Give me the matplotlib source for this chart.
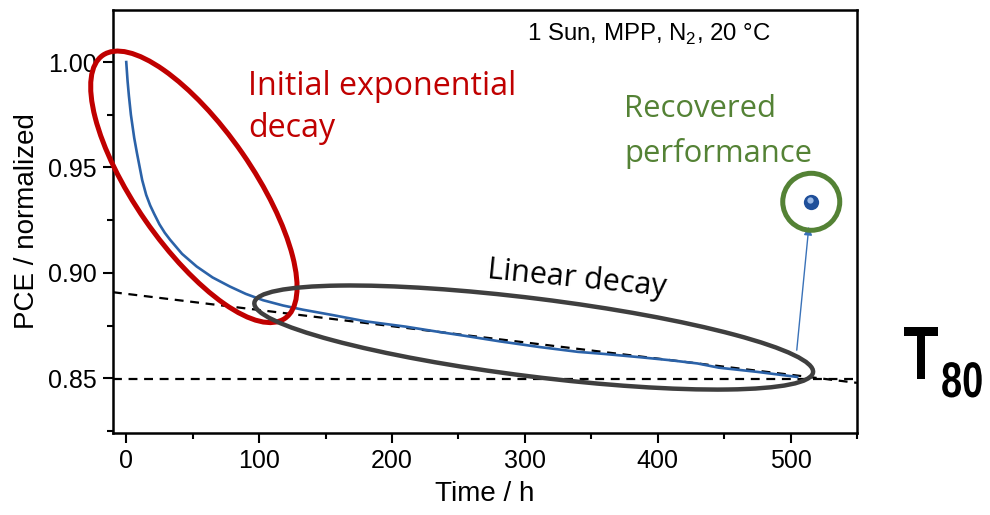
import matplotlib
matplotlib.use("Agg")
import matplotlib.pyplot as plt
from matplotlib.patches import Ellipse, PathPatch
from matplotlib.transforms import ScaledTranslation, Affine2D
from matplotlib.textpath import TextPath
from matplotlib.font_manager import FontProperties
from matplotlib.ticker import MultipleLocator, FormatStrFormatter

# MPP tracking, normalized PCE vs time
time_h = [0, 1, 2, 3.5, 6, 8, 10, 12, 15, 18, 21, 25, 29, 33, 42, 53, 65, 78, 90,
          103, 118, 133, 155, 180, 210, 235, 256, 281, 311, 340, 360, 386, 410,
          430, 446, 475, 490, 505]
pce_norm = [1.000, 0.991, 0.984, 0.975, 0.964, 0.957, 0.9505, 0.944, 0.937, 0.932,
            0.928, 0.923, 0.919, 0.9157, 0.909, 0.903, 0.8978, 0.8935, 0.890,
            0.887, 0.8845, 0.8825, 0.880, 0.877, 0.8745, 0.872, 0.870, 0.8675,
            0.8648, 0.8625, 0.8615, 0.8600, 0.8585, 0.857, 0.8550, 0.8530,
            0.8518, 0.8506]

# linear fit of the slow regime and the T80 level
fit_t = [-10, 550]
fit_pce = [0.8908, 0.8478]
t80_level = 0.8495

# point after recovery
rec_t = 515.6
rec_pce = 0.9337

plt.rcParams['font.family'] = ['Liberation Sans', 'DejaVu Sans']
plt.rcParams['mathtext.fontset'] = 'custom'
plt.rcParams['mathtext.rm'] = 'Liberation Sans'

W, H = 990, 515
fig = plt.figure(figsize=(W / 100, H / 100), dpi=100)
ax = fig.add_axes([0.1141, 0.1592, 0.7515, 0.8214])

ax.plot(fit_t, fit_pce, color='black', lw=1.6, dashes=(4, 3), zorder=2)
ax.plot(fit_t, [t80_level, t80_level], color='black', lw=1.6, dashes=(4, 3), zorder=2)
ax.plot(time_h, pce_norm, color='#2b62a8', lw=1.9, zorder=3)

ax.set_xlim(-10, 550)
ax.set_ylim(0.824, 1.0247)
ax.xaxis.set_major_locator(MultipleLocator(100))
ax.xaxis.set_minor_locator(MultipleLocator(50))
ax.yaxis.set_major_locator(MultipleLocator(0.05))
ax.yaxis.set_minor_locator(MultipleLocator(0.025))
ax.yaxis.set_major_formatter(FormatStrFormatter('%.2f'))
ax.tick_params(which='both', direction='out', width=1.5, labelsize=18, top=False, right=False)
ax.tick_params(which='major', length=7.5, pad=4)
ax.tick_params(which='minor', length=4.5)
for sp in ax.spines.values():
    sp.set_linewidth(1.8)

ax.set_xlabel('Time / h', fontsize=20)
ax.set_ylabel('PCE / normalized', fontsize=20)
ax.xaxis.set_label_coords(0.5, -0.113)
ax.yaxis.set_label_coords(-0.098, 0.5)


def ring(cx, cy, w_px, h_px, angle, color, lw):
    # ellipse sized in pixels, anchored at a data point
    tr = fig.dpi_scale_trans + ScaledTranslation(cx, cy, ax.transData)
    e = Ellipse((0, 0), w_px / 100, h_px / 100, angle=angle, transform=tr,
                fill=False, edgecolor=color, lw=lw, zorder=4, clip_on=False)
    ax.add_patch(e)


ring(50.9, 0.9408, 320, 118, -55.3, '#c00000', 3.6)
ring(306.7, 0.8693, 563, 78, -7.1, '#3f3f3f', 3.2)
ring(rec_t, rec_pce, 57, 57, 0, '#548235', 3.6)

# recovered point, shaded sphere look
ax.plot([rec_t], [rec_pce], 'o', ms=11, color='#1f4f9a', mec='none', zorder=5)
hl = ax.transData + ScaledTranslation(-1.5 / 100, 1.5 / 100, fig.dpi_scale_trans)
ax.plot([rec_t], [rec_pce], 'o', ms=4.5, color='#a9c6ee', mec='none', alpha=0.9,
        transform=hl, zorder=6)

ax.annotate('', xy=(rec_t, rec_pce), xytext=(504.7, 0.8633),
            arrowprops=dict(arrowstyle='-|>', color='#3a72b8', lw=1.0,
                            mutation_scale=12, shrinkA=0, shrinkB=18))

ann_font = ['Open Sans', 'DejaVu Sans']
ax.text(91.8, 0.9843, 'Initial exponential', color='#c00000', fontsize=23.2,
        family=ann_font, va='baseline')
ax.text(91.8, 0.9645, 'decay', color='#c00000', fontsize=23.2,
        family=ann_font, va='baseline')
ax.text(374.7, 0.974, 'Recovered', color='#548235', fontsize=22.3,
        family=ann_font, va='baseline')
ax.text(374.7, 0.9527, 'performance', color='#548235', fontsize=22.3,
        family=ann_font, va='baseline')
ax.text(271.2, 0.8973, 'Linear decay', color='black', fontsize=22,
        family=ann_font, va='baseline', rotation=-5.7, rotation_mode='anchor')

ax.text(301.4, 1.0101, r'1 Sun, MPP, N$_\mathregular{2}$, 20 °C', fontsize=17.3,
        va='baseline')


def narrow_text(s, x_px, base_px, em_px, sx):
    # condensed bold label, placed in figure pixels from the top-left corner
    tp = TextPath((0, 0), s, size=em_px,
                  prop=FontProperties(family='Liberation Sans', weight='bold'))
    tr = Affine2D().scale(sx, 1).translate(x_px, H - base_px) \
        + Affine2D().scale(1 / W, 1 / H) + fig.transFigure
    fig.patches.append(PathPatch(tp, transform=tr, color='black', lw=0))


narrow_text('T', 903, 379, 75, 0.78)
narrow_text('80', 941, 397, 50, 0.76)

fig.savefig('out.png', dpi=100)
